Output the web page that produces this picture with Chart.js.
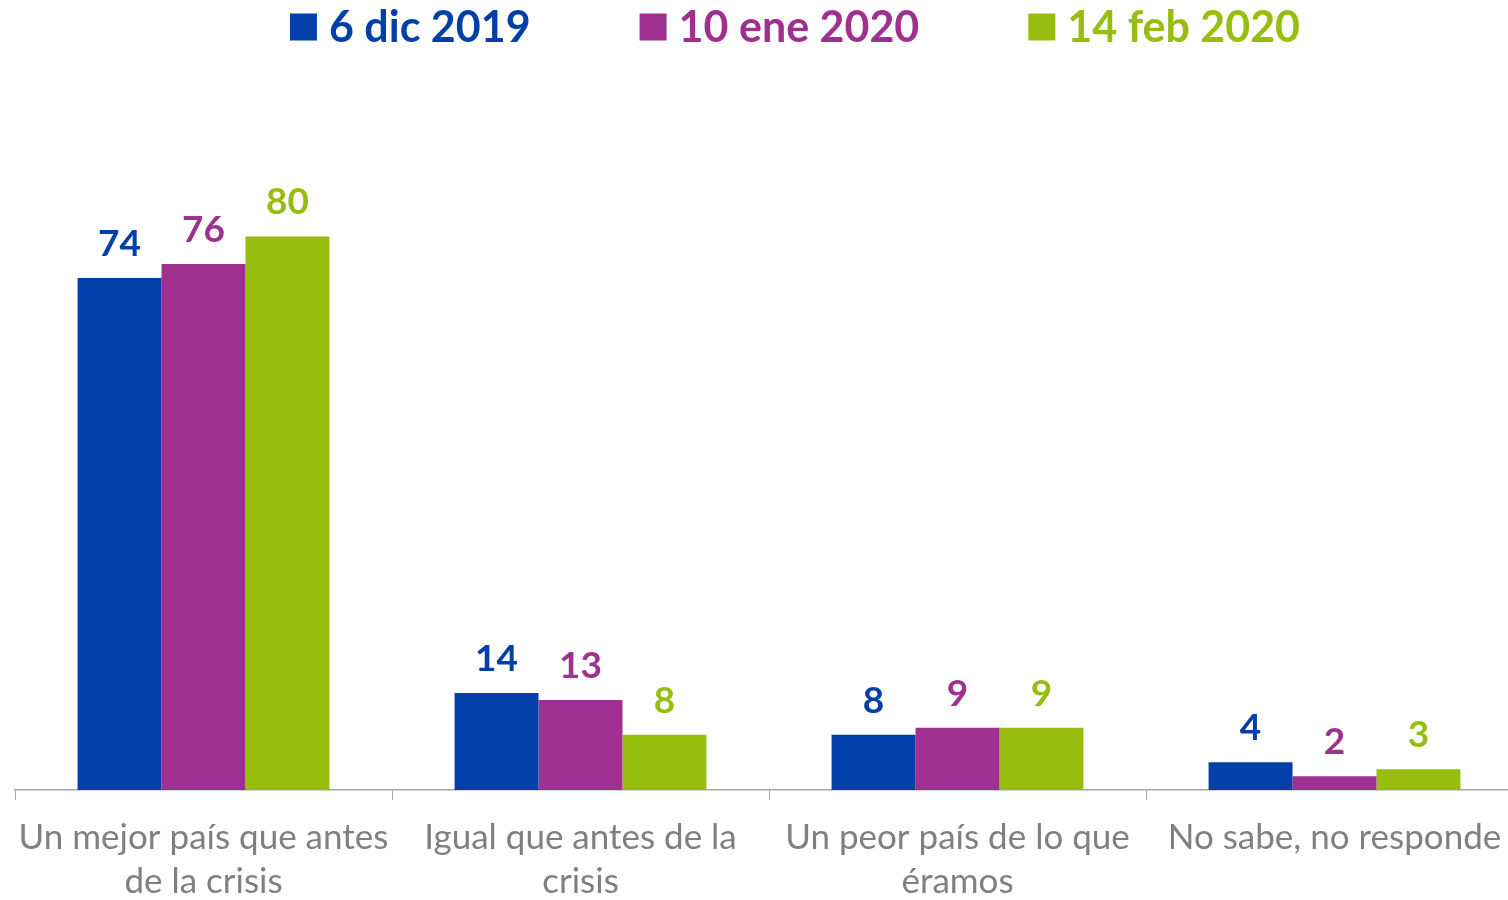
<!DOCTYPE html>
<html><head><meta charset="utf-8">
<script src="https://cdn.jsdelivr.net/npm/chart.js@4/dist/chart.umd.min.js"></script>
<style>
html,body{margin:0;padding:0;background:#fff;overflow:hidden;width:1508px;height:900px}
#wrap{position:absolute;left:0;top:0;width:1540px;height:900px}
</style></head><body>
<div id="wrap"><canvas id="c" width="1540" height="900"></canvas></div>
<script>
const categories = [
  ['Un mejor país que antes','de la crisis'],
  ['Igual que antes de la','crisis'],
  ['Un peor país de lo que','éramos'],
  'No sabe, no responde'
];
const seriesNames = ['6 dic 2019','10 ene 2020','14 feb 2020'];
const seriesColors = ['#0040A8','#A0308F','#97BE0E'];
const dec2019 = [74, 14, 8, 4];
const jan2020 = [76, 13, 9, 2];
const feb2020 = [80, 8, 9, 3];
const FONT = 'Lato';

const valueLabels = {
  id:'valueLabels',
  afterDatasetsDraw(chart){
    const ctx = chart.ctx;
    ctx.save();
    ctx.font = 'bold 37px ' + FONT;
    ctx.textAlign = 'center';
    ctx.textBaseline = 'alphabetic';
    chart.data.datasets.forEach((ds,i)=>{
      chart.getDatasetMeta(i).data.forEach((bar,j)=>{
        ctx.fillStyle = ds.backgroundColor;
        ctx.fillText(String(ds.data[j]), bar.x, bar.y - 22);
      });
    });
    ctx.restore();
  }
};

// legend drawn from the datasets, centred over the visible page
const topLegend = {
  id:'topLegend',
  afterDraw(chart){
    const ctx = chart.ctx;
    ctx.save();
    ctx.font = 'bold 43px ' + FONT;
    ctx.textBaseline = 'middle';
    ctx.textAlign = 'left';
    const box = 27, gapText = 12, gapItem = 109, centerX = 795, midY = 27;
    const items = chart.data.datasets.map(ds => ({label:ds.label, color:ds.backgroundColor, w: box + gapText + ctx.measureText(ds.label).width}));
    const total = items.reduce((s,it)=>s+it.w,0) + gapItem*(items.length-1);
    let x = centerX - total/2;
    items.forEach(it=>{
      ctx.fillStyle = it.color;
      ctx.fillRect(x, midY - box/2, box, box);
      ctx.fillText(it.label, x + box + gapText, midY + 1);
      x += it.w + gapItem;
    });
    ctx.restore();
  }
};

new Chart(document.getElementById('c'), {
  type:'bar',
  data:{
    labels:categories,
    datasets:[
      {label:seriesNames[0], data:dec2019, backgroundColor:seriesColors[0]},
      {label:seriesNames[1], data:jan2020, backgroundColor:seriesColors[1]},
      {label:seriesNames[2], data:feb2020, backgroundColor:seriesColors[2]}
    ]
  },
  options:{
    responsive:false, animation:false,
    layout:{padding:{left:15,right:17,top:98,bottom:0}},
    datasets:{bar:{categoryPercentage:0.668, barPercentage:1.0, borderWidth:0}},
    plugins:{
      tooltip:{enabled:false},
      legend:{display:false}
    },
    scales:{
      x:{
        offset:true,
        grid:{display:true, offset:true, drawOnChartArea:false, drawTicks:true, tickLength:10, color:'#A6A6A6'},
        border:{display:true, color:'#A6A6A6', width:1.5},
        ticks:{color:'#808080', font:{family:FONT, size:35, lineHeight:1.26}, maxRotation:0, autoSkip:false, padding:16},
        afterFit(scale){ scale.height = 110; }
      },
      y:{display:false, min:0, max:100}
    }
  },
  plugins:[valueLabels, topLegend]
});
</script></body></html>
